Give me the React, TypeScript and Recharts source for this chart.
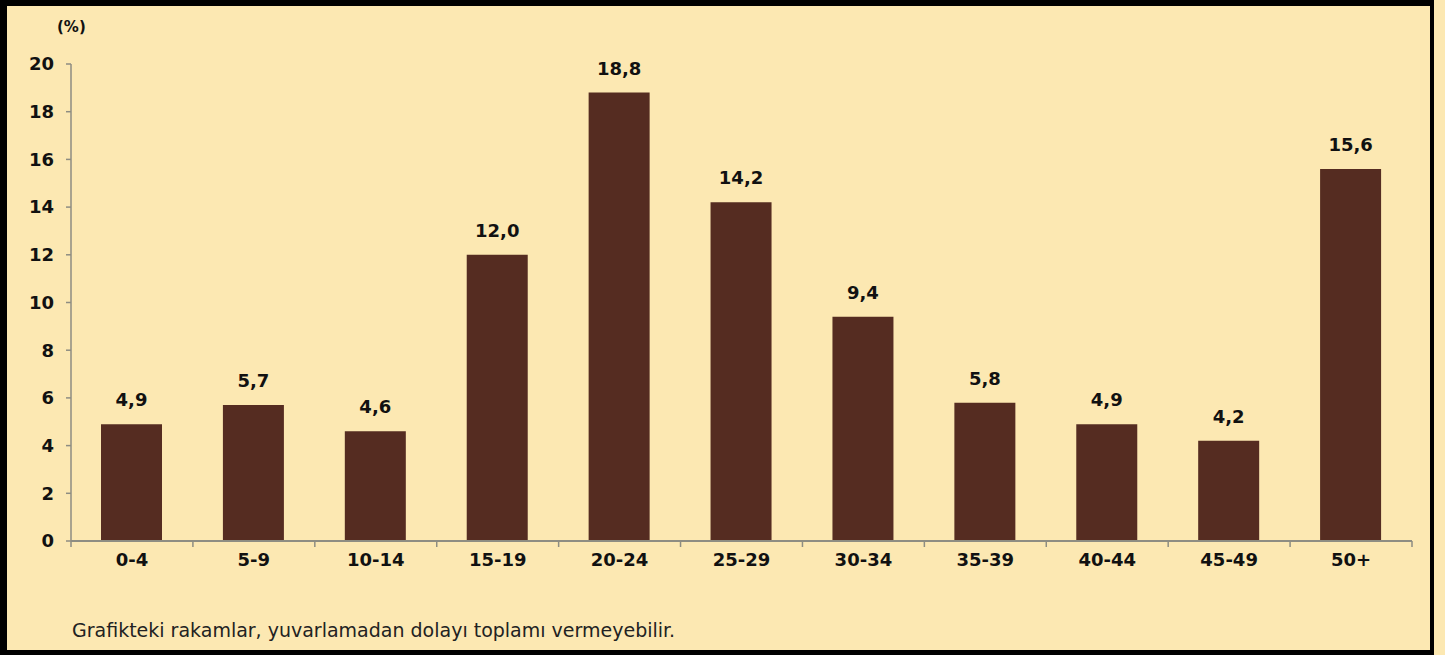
import React from 'react';
import { BarChart, Bar, XAxis, YAxis, LabelList } from 'recharts';

// age groups and their share (%)
const ageGroups = ['0-4', '5-9', '10-14', '15-19', '20-24', '25-29', '30-34', '35-39', '40-44', '45-49', '50+'];
const shares = [4.9, 5.7, 4.6, 12.0, 18.8, 14.2, 9.4, 5.8, 4.9, 4.2, 15.6];
const yTicks = [0, 2, 4, 6, 8, 10, 12, 14, 16, 18, 20];

const data = ageGroups.map((g, i) => ({ group: g, value: shares[i] }));

const BG = '#FCE8B2';
const BAR = '#552C21';
const AXIS = '#8E8D82';
const FONT = '"DejaVu Sans", Verdana, sans-serif';

const CHART_W = 1434;
const MARGIN = { top: 64, right: 22, bottom: 113, left: 0 };
const Y_W = 71;

// category label + small tick marks at the category boundaries
const GroupTick = (props: any) => {
  const { x, y, payload, index } = props;
  const half = payload?.offset || (CHART_W - Y_W - MARGIN.right) / ageGroups.length / 2;
  const last = index === ageGroups.length - 1;
  return (
    <g>
      <line x1={x - half} x2={x - half} y1={y} y2={y + 6} stroke={AXIS} strokeWidth={1.5} />
      {last && <line x1={x + half} x2={x + half} y1={y} y2={y + 6} stroke={AXIS} strokeWidth={1.5} />}
      <text
        x={x}
        y={y + 12}
        dy="0.71em"
        textAnchor="middle"
        fill="#111"
        fontSize={18}
        fontWeight="bold"
        fontFamily={FONT}
      >
        {payload.value}
      </text>
    </g>
  );
};

const App: React.FC = () => {
  return (
    <div style={{ position: 'absolute', left: 0, top: 0, width: 1445, height: 655, background: BG, fontFamily: FONT }}>
      <div
        style={{
          position: 'absolute',
          left: 0,
          top: 0,
          width: 1434,
          height: 655,
          boxSizing: 'border-box',
          borderStyle: 'solid',
          borderColor: '#000',
          borderWidth: '6px 4px 5px 7px',
        }}
      />
      <div
        style={{
          position: 'absolute',
          left: 57,
          top: 20,
          fontSize: 15,
          lineHeight: '15px',
          fontWeight: 'bold',
          color: '#111',
        }}
      >
        (%)
      </div>

      <div style={{ position: 'absolute', left: 0, top: 0 }}>
        <BarChart width={CHART_W} height={655} data={data} margin={MARGIN}>
          <YAxis
            width={Y_W}
            domain={[0, 20]}
            ticks={yTicks}
            interval={0}
            axisLine={{ stroke: AXIS, strokeWidth: 1.5 }}
            tickLine={{ stroke: AXIS, strokeWidth: 1.5 }}
            tickSize={5}
            tickMargin={12}
            tick={{ fill: '#111', fontSize: 18, fontWeight: 'bold', fontFamily: FONT }}
          />
          <XAxis
            dataKey="group"
            height={1}
            interval={0}
            axisLine={{ stroke: AXIS, strokeWidth: 2 }}
            tickLine={false}
            tickSize={0}
            tickMargin={0}
            tick={<GroupTick />}
          />
          <Bar dataKey="value" fill={BAR} barSize={61} isAnimationActive={false}>
            <LabelList
              dataKey="value"
              position="top"
              offset={18}
              formatter={(v: number) => Number(v).toFixed(1).replace('.', ',')}
              style={{ fill: '#111', fontSize: 18, fontWeight: 'bold', fontFamily: FONT }}
            />
          </Bar>
        </BarChart>
      </div>

      <div
        style={{
          position: 'absolute',
          left: 72,
          top: 621,
          fontSize: 19,
          lineHeight: '19px',
          color: '#222',
        }}
      >
        Grafikteki rakamlar, yuvarlamadan dolayı toplamı vermeyebilir.
      </div>
    </div>
  );
};

export default App;
